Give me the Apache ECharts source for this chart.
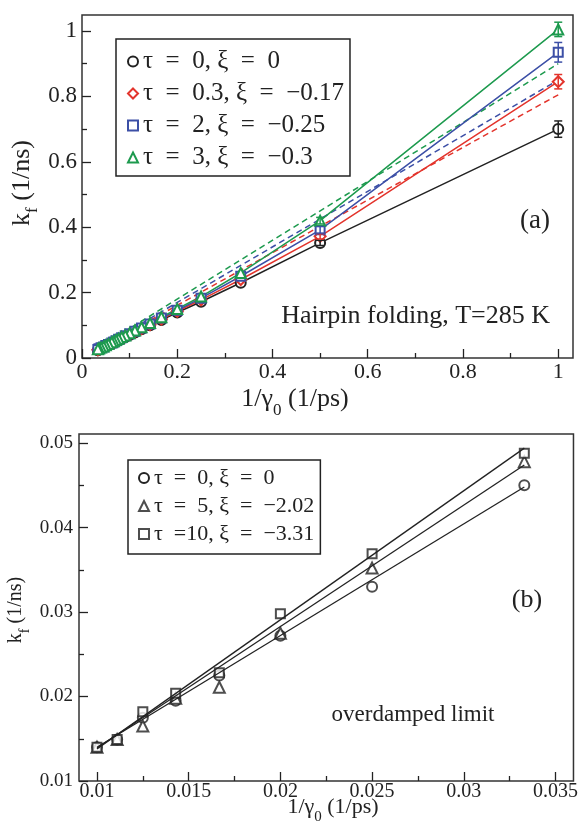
<!DOCTYPE html>
<html>
<head>
<meta charset="utf-8">
<script src="https://cdn.jsdelivr.net/npm/echarts@6/dist/echarts.min.js"></script>
<style>
  html, body { margin: 0; padding: 0; background: #fff; }
  #main { width: 581px; height: 829px; }
</style>
</head>
<body>
<div id="main"></div>
<script>
// panel (a): hairpin folding, T=285 K
const invGammaA = [1, 0.5, 0.3333, 0.25, 0.2, 0.1667, 0.1429, 0.125, 0.1111, 0.1, 0.0909,
                   0.0833, 0.0769, 0.0714, 0.0667, 0.0625, 0.0556, 0.05, 0.0455, 0.04, 0.0357, 0.0333];
const kfBlack = [0.700, 0.352, 0.230, 0.172, 0.139, 0.116, 0.100, 0.088, 0.078, 0.070, 0.064,
                 0.059, 0.054, 0.050, 0.047, 0.044, 0.039, 0.036, 0.032, 0.029, 0.026, 0.024];
const kfRed   = [0.845, 0.372, 0.240, 0.178, 0.143, 0.119, 0.102, 0.090, 0.080, 0.072, 0.066,
                 0.060, 0.056, 0.052, 0.048, 0.045, 0.040, 0.037, 0.033, 0.030, 0.027, 0.025];
const kfBlue  = [0.935, 0.392, 0.250, 0.183, 0.146, 0.122, 0.104, 0.092, 0.082, 0.074, 0.068,
                 0.062, 0.057, 0.053, 0.049, 0.046, 0.041, 0.038, 0.034, 0.031, 0.028, 0.026];
const kfGreen = [1.005, 0.420, 0.260, 0.188, 0.150, 0.125, 0.107, 0.094, 0.084, 0.076, 0.069,
                 0.064, 0.059, 0.055, 0.051, 0.048, 0.043, 0.039, 0.035, 0.032, 0.029, 0.027];
// error bars only on the first two points (1/γ0 = 1 and 0.5)
const errIdx = [0, 1];
const errBlack = [0.025, 0.008];
const errRed   = [0.022, 0.008];
const errBlue  = [0.030, 0.010];
const errGreen = [0.022, 0.010];
// dashed straight lines
const dashX     = [0.0333, 1];
const dashRed   = [0.027, 0.805];
const dashBlue  = [0.028, 0.850];
const dashGreen = [0.030, 0.900];
const sp = '\u2002';
const namesA = ['τ' + sp + '=' + sp + '0, ξ' + sp + '=' + sp + '0',
                'τ' + sp + '=' + sp + '0.3, ξ' + sp + '=' + sp + '−0.17',
                'τ' + sp + '=' + sp + '2, ξ' + sp + '=' + sp + '−0.25',
                'τ' + sp + '=' + sp + '3, ξ' + sp + '=' + sp + '−0.3'];

// panel (b): overdamped limit
const invGammaB = [0.01, 0.0111, 0.0125, 0.01429, 0.01667, 0.02, 0.025, 0.0333];
const kfTau0  = [0.0140, 0.0149, 0.0175, 0.0195, 0.0225, 0.0272, 0.0330, 0.0450];
const kfTau5  = [0.0140, 0.0149, 0.0165, 0.0198, 0.0211, 0.0275, 0.0352, 0.0478];
const kfTau10 = [0.0140, 0.0149, 0.0182, 0.0204, 0.0228, 0.0298, 0.0369, 0.0488];
const fitX     = [0.01, 0.0333];
const fitTau0  = [0.0140, 0.0448];
const fitTau5  = [0.0139, 0.0474];
const fitTau10 = [0.0138, 0.0494];
const namesB = ['τ' + sp + '=' + sp + '0, ξ' + sp + '=' + sp + '0',
                'τ' + sp + '=' + sp + '5, ξ' + sp + '=' + sp + '−2.02',
                'τ' + sp + '=10, ξ' + sp + '=' + sp + '−3.31'];

const serif = 'Liberation Serif';
const ink = '#222';
const colors = ['#222222', '#e3342c', '#3c4fa6', '#1d9a4e'];

let chart = echarts.init(document.getElementById('main'));

function pairs(xs, ys) {
  return xs.map((x, i) => [x, ys[i]]);
}

function axis(grid, pos, min, max, ticks, minor, fontSize, margin) {
  if (minor) {
    return {
      type: 'value', gridIndex: grid, position: pos, min: min, max: max,
      axisLine: { show: false }, splitLine: { show: false },
      axisLabel: { show: false },
      axisTick: { show: true, inside: true, length: 5, customValues: ticks, lineStyle: { color: ink, width: 1.3 } }
    }
  }
  return {
    type: 'value', gridIndex: grid, position: pos, min: min, max: max,
    axisLine: { show: false, onZero: false }, splitLine: { show: false },
    axisTick: { show: true, inside: true, length: 9, customValues: ticks, lineStyle: { color: ink, width: 1.3 } },
    axisLabel: { customValues: ticks, margin: margin, fontFamily: serif, fontSize: fontSize, color: ink }
  }
}

function errorBars(color, ys, errs) {
  return {
    type: 'custom', xAxisIndex: 0, yAxisIndex: 0, z: 5, silent: true,
    data: errIdx.map((k, i) => [invGammaA[k], ys[k] - errs[i], ys[k] + errs[i]]),
    renderItem(params, api) {
      const lo = api.coord([api.value(0), api.value(1)]);
      const hi = api.coord([api.value(0), api.value(2)]);
      const w = 4;
      const st = { stroke: color, lineWidth: 1.5 };
      return {
        type: 'group', children: [
          { type: 'line', shape: { x1: lo[0], y1: lo[1], x2: hi[0], y2: hi[1] }, style: st },
          { type: 'line', shape: { x1: lo[0] - w, y1: lo[1], x2: lo[0] + w, y2: lo[1] }, style: st },
          { type: 'line', shape: { x1: hi[0] - w, y1: hi[1], x2: hi[0] + w, y2: hi[1] }, style: st }
        ]
      }
    }
  }
}

const symA = ['emptyCircle', 'emptyDiamond', 'emptyRect', 'emptyTriangle'];
const sizeA = [10, 11, 9, 10];
const kfA = [kfBlack, kfRed, kfBlue, kfGreen];
const errA = [errBlack, errRed, errBlue, errGreen];
const dashA = [null, dashRed, dashBlue, dashGreen];

const symB = ['emptyCircle', 'emptyTriangle', 'emptyRect'];
const sizeB = [10, 11, 9];
const kfB = [kfTau0, kfTau5, kfTau10];
const fitB = [fitTau0, fitTau5, fitTau10];

let series = [];
// dashed lines first, under the markers
for (let i = 1; i < 4; i++) {
  series.push({
    name: 'dash' + i, type: 'line', xAxisIndex: 0, yAxisIndex: 0,
    data: pairs(dashX, dashA[i]), symbol: 'none', silent: true,
    lineStyle: { color: colors[i], width: 1.5, type: [6, 4] }
  });
}
for (let i = 0; i < 4; i++) {
  series.push({
    name: namesA[i], type: 'line', xAxisIndex: 0, yAxisIndex: 0,
    data: pairs(invGammaA, kfA[i]),
    symbol: symA[i], symbolSize: sizeA[i],
    itemStyle: { color: colors[i], borderWidth: 1.5 },
    lineStyle: { color: colors[i], width: 1.5 }
  });
}
for (let i = 0; i < 4; i++) series.push(errorBars(colors[i], kfA[i], errA[i]));

for (let i = 0; i < 3; i++) {
  series.push({
    name: 'fit' + i, type: 'line', xAxisIndex: 2, yAxisIndex: 2,
    data: pairs(fitX, fitB[i]), symbol: 'none', silent: true,
    lineStyle: { color: ink, width: 1.3 }
  });
  series.push({
    name: namesB[i], type: 'scatter', xAxisIndex: 2, yAxisIndex: 2,
    data: pairs(invGammaB, kfB[i]),
    symbol: symB[i], symbolSize: sizeB[i],
    itemStyle: { color: ink, borderWidth: 1.3 }
  });
}

function legend(left, top, padding, fontSize, gap, names, syms) {
  return {
    left: left, top: top, orient: 'vertical', padding: padding,
    itemWidth: 10, itemHeight: 10, itemGap: gap,
    borderColor: ink, borderWidth: 1.5, backgroundColor: '#fff',
    selectedMode: false,
    textStyle: { fontFamily: serif, fontSize: fontSize, color: ink, lineHeight: 22 },
    data: names.map((n, i) => ({ name: n, icon: syms[i] }))
  }
}

function label(x, y, text, size, align) {
  return {
    type: 'text', x: x, y: y, silent: true,
    style: {
      text: text, fill: ink, font: size + 'px "' + serif + '"',
      textAlign: align || 'center', align: align || 'center',
      textVerticalAlign: 'middle', verticalAlign: 'middle'
    }
  }
}

// axis title with a subscript, drawn with rich text; the sub is pushed down by top padding
function subTitle(x, y, parts, size, subSize, drop, rot) {
  return {
    type: 'text', x: x, y: y, rotation: rot || 0, silent: true,
    style: {
      text: '{m|' + parts[0] + '}{s|' + parts[1] + '}{m|' + parts[2] + '}',
      fill: ink, textAlign: 'center', align: 'center',
      textVerticalAlign: 'middle', verticalAlign: 'middle',
      rich: {
        m: { fontFamily: serif, fontSize: size, fill: ink, color: ink },
        s: { fontFamily: serif, fontSize: subSize, lineHeight: subSize, padding: [drop, 0, 0, 0], fill: ink, color: ink }
      }
    }
  }
}

chart.setOption({
  animation: false,
  backgroundColor: '#fff',
  grid: [
    { left: 82, top: 15, width: 491, height: 343, show: true, borderColor: '#333', borderWidth: 1.5 },
    { left: 79, top: 434, width: 496, height: 347, show: true, borderColor: '#333', borderWidth: 1.5 }
  ],
  xAxis: [
    axis(0, 'bottom', 0, 1.031, [0, 0.2, 0.4, 0.6, 0.8, 1], false, 22, 3),
    axis(0, 'bottom', 0, 1.031, [0.1, 0.3, 0.5, 0.7, 0.9], true),
    axis(1, 'bottom', 0.00902, 0.03598, [0.01, 0.015, 0.02, 0.025, 0.03, 0.035], false, 20, 1),
    axis(1, 'bottom', 0.00902, 0.03598, [0.0125, 0.0175, 0.0225, 0.0275, 0.0325], true)
  ],
  yAxis: [
    axis(0, 'left', 0, 1.049, [0, 0.2, 0.4, 0.6, 0.8, 1], false, 23, 5),
    axis(0, 'left', 0, 1.049, [0.1, 0.3, 0.5, 0.7, 0.9], true),
    axis(1, 'left', 0.01, 0.05107, [0.01, 0.02, 0.03, 0.04, 0.05], false, 19, 6),
    axis(1, 'left', 0.01, 0.05107, [0.015, 0.025, 0.035, 0.045], true)
  ],
  legend: [
    legend(116, 39, [10, 6, 6, 11], 25, 7, namesA, symA),
    legend(128, 460, [7, 6, 9, 10], 22, 6, namesB, symB)
  ],
  graphic: [
    label(535, 221, '(a)', 27),
    label(550, 316, 'Hairpin folding, T=285 K', 26, 'right'),
    label(527, 600, '(b)', 26),
    label(413, 715, 'overdamped limit', 23),
    subTitle(295, 399, ['1/γ', '0', ' (1/ps)'], 26, 17, 24),
    subTitle(333, 807, ['1/γ', '0', ' (1/ps)'], 22, 15, 20),
    subTitle(22, 183, ['k', 'f', ' (1/ns)'], 26, 17, 22, Math.PI / 2),
    subTitle(16, 610, ['k', 'f', ' (1/ns)'], 20, 14, 18, Math.PI / 2)
  ],
  series: series
});
</script>
</body>
</html>
